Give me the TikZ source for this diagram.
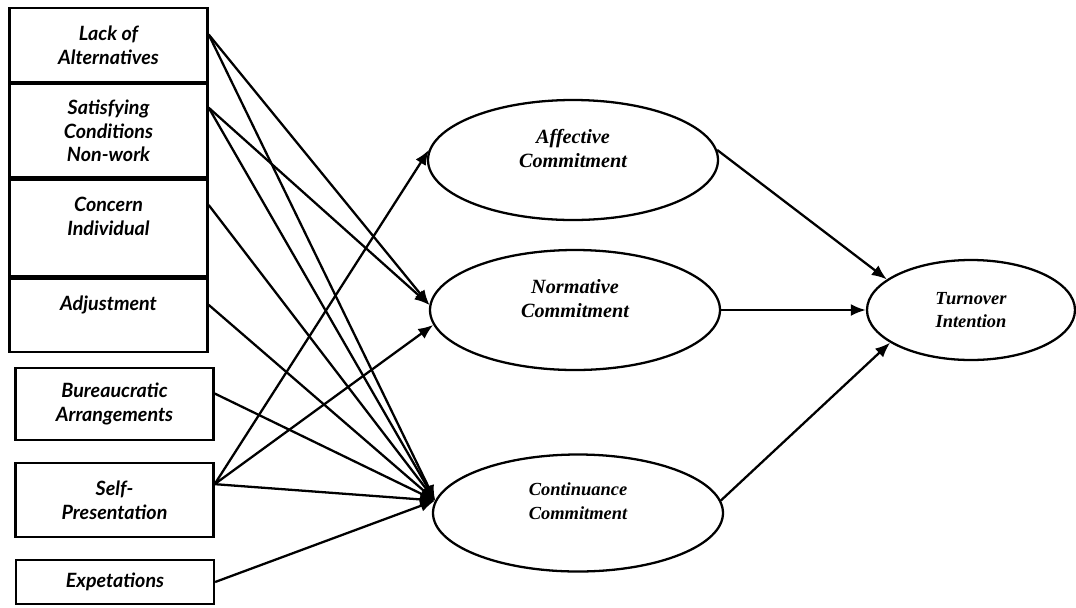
\documentclass[tikz,border=0pt]{standalone}
\usepackage{fontspec}
\setmainfont{Liberation Serif}
\newfontfamily\factorfont{Lato}
\usepackage{tikz}
\usetikzlibrary{positioning,arrows.meta,shapes.geometric}

\begin{document}
\begin{tikzpicture}[factor/.style={draw,line width=1.3pt,minimum width=3.96cm,inner sep=2pt,align=center,font=\factorfont\bfseries\itshape\fontsize{11.2}{13.6}\selectfont},
    construct/.style={draw,ellipse,line width=1.3pt,minimum width=5.8cm,minimum height=2.4cm,inner sep=1pt,align=center,font=\bfseries\itshape\fontsize{11.5}{13.6}\selectfont},
    link/.style={line width=1.3pt,-{Latex[length=3mm,width=2.4mm]}}]
      \useasboundingbox (0,0) rectangle (21.52,-12.14);
      % antecedents
      \node[factor,minimum height=1.48cm](lack) at (2.17,-0.90){Lack of\\Alternatives};
      \node[factor,minimum height=1.86cm,below=0pt of lack](satis){Satisfying\\Conditions\\Non-work};
      \node[factor,minimum height=1.94cm,below=0pt of satis](concern){Concern\\Individual\\\mbox{}};
      \node[factor,minimum height=1.46cm,below=0pt of concern](adjust){Adjustment\\\mbox{}};
      \node[factor,minimum height=1.44cm](bureau) at (2.29,-8.08){Bureaucratic\\Arrangements};
      \node[factor,minimum height=1.48cm](selfp) at (2.29,-10.0){Self-\\Presentation};
      \node[factor,minimum height=0.88cm](expet) at (2.30,-11.64){Expetations};
      % commitment
      \node[construct](affect) at (11.46,-3.2){Affective\\Commitment\\\mbox{}};
      \node[construct](normat) at (11.5,-6.2){Normative\\Commitment\\\mbox{}};
      \node[construct,minimum height=2.34cm,font=\bfseries\itshape\fontsize{10.5}{13.6}\selectfont](contin) at (11.56,-10.26){Continuance\\Commitment\\\mbox{}};
      \node[construct,minimum width=4.16cm,minimum height=2.0cm,font=\bfseries\itshape\fontsize{10.5}{13.6}\selectfont](turnover) at (19.42,-6.2){Turnover\\Intention};
      % paths
      \draw[link] (lack.6) -- (normat.178);
      \draw[link] (satis.13) -- (normat.178);
      \draw[link] (selfp.9) -- (affect.176);
      \draw[link] (selfp.9) -- (normat.186);
      \draw[link] (lack.6) -- (contin.175);
      \draw[link] (satis.13) -- (contin.175);
      \draw[link] (concern.13) -- (contin.175);
      \draw[link] (adjust.6) -- (contin.175);
      \draw[link] (bureau.6) -- (contin.175);
      \draw[link] (selfp.9) -- (contin.175);
      \draw[link] (expet.east) -- (contin.175);
      \draw[link] (affect.4) -- (turnover.160);
      \draw[link] (normat.east) -- (turnover.west);
      \draw[link] (contin.5) -- (turnover.202);
    \end{tikzpicture}
\end{document}
